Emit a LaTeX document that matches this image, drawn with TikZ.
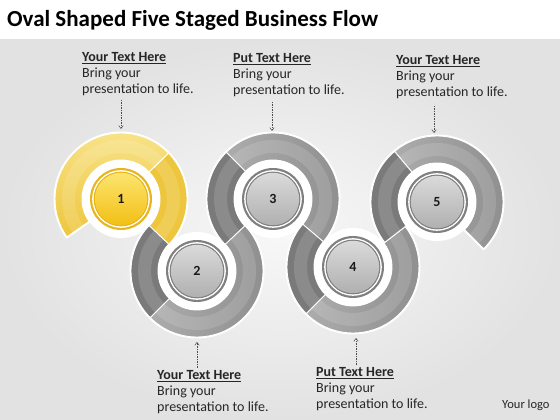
\documentclass[tikz,border=0pt]{standalone}
\usepackage{fontspec}
\setmainfont{Carlito}
\usetikzlibrary{arrows.meta}
\definecolor{ylA}{RGB}{248,228,140}
\definecolor{ylB}{RGB}{238,198,60}
\definecolor{ylC}{RGB}{238,198,62}
\definecolor{ylRim}{RGB}{232,182,28}
\definecolor{ylTop}{RGB}{252,228,110}
\definecolor{ylBot}{RGB}{242,192,22}
\definecolor{gD}{RGB}{122,122,122}
\definecolor{gL}{RGB}{172,172,172}
\definecolor{gM}{RGB}{142,142,142}
\definecolor{gRim}{RGB}{128,128,128}
\definecolor{gTop}{RGB}{218,218,218}
\definecolor{gBot}{RGB}{176,176,176}
\definecolor{bgIn}{RGB}{248,248,248}
\definecolor{bgOut}{RGB}{226,226,226}
\def\bandRo{66}
\def\bandRi{39}
\newcommand{\bandseg}[3]{([shift={(#2:\bandRo)}]#1) arc[start angle=#2, end angle=#3, radius=\bandRo] -- ([shift={(#3:\bandRi)}]#1) arc[start angle=#3, end angle=#2, radius=\bandRi] -- cycle}
\newcommand{\bandmid}[3]{([shift={(#2:52.5)}]#1) arc[start angle=#2, end angle=#3, radius=52.5]}
\newcommand{\ringbtn}[6]{%
  \fill[white] (#1) circle[radius=39];
  \fill[#2] (#1) circle[radius=31];
  \fill[white] (#1) circle[radius=28.8];
  \fill[#2] (#1) circle[radius=27.4];
  \shade[top color=#3, bottom color=#4] (#1) circle[radius=26.2];
  \node[num] (#6) at (#1) {#5};}
\begin{document}
\begin{tikzpicture}[x=1pt,y=1pt,
  lbl/.style={anchor=north west, align=left, inner sep=0pt, font=\fontsize{14}{16}\selectfont, text=black!85},
  arr/.style={draw=black!70, line width=0.5pt, dash pattern=on 1.5pt off 1pt, -{Straight Barb[length=3pt,width=4.5pt]}},
  sep/.style={draw=white, line width=0.9pt, line join=round},
  halo/.style={draw=white, line width=3pt, line join=round},
  tube/.style={draw=white, draw opacity=0.13, line width=13pt},
  num/.style={font=\fontsize{14}{14}\selectfont\bfseries, text=black!90, inner sep=0pt}]
\useasboundingbox (0,0) rectangle (560,420);
\fill[white] (0,0) rectangle (560,420);
\shade[inner color=bgIn, outer color=bgOut] (0,0) rectangle (560,380);
% centres
\coordinate (c1) at (121,221);
\coordinate (c2) at (197,149);
\coordinate (c3) at (273,221);
\coordinate (c4) at (353,153);
\coordinate (c5) at (437,218);
% halo
\draw[halo] \bandseg{c1}{-43.5}{215};
\draw[halo] \bandseg{c2}{136.5}{403.5};
\draw[halo] \bandseg{c3}{-40.4}{223.5};
\draw[halo] \bandseg{c4}{139.6}{397.7};
\draw[halo] \bandseg{c5}{-45}{217.7};
% ring 1 (yellow)
\fill[ylC, sep] \bandseg{c1}{-43.5}{44};
\shade[top color=ylA, bottom color=ylB] \bandseg{c1}{44}{215};
\draw[sep] \bandseg{c1}{44}{215};
% ring 2
\fill[gD, sep] \bandseg{c2}{136.5}{225};
\shade[left color=gL, right color=gM] \bandseg{c2}{225}{403.5};
\draw[sep] \bandseg{c2}{225}{403.5};
% ring 3
\shade[left color=gL, right color=gM] \bandseg{c3}{-40.4}{135};
\draw[sep] \bandseg{c3}{-40.4}{135};
\fill[gD, sep] \bandseg{c3}{135}{223.5};
% ring 4
\fill[gD, sep] \bandseg{c4}{139.6}{225};
\shade[left color=gL, right color=gM] \bandseg{c4}{225}{397.7};
\draw[sep] \bandseg{c4}{225}{397.7};
% ring 5
\shade[left color=gL, right color=gM] \bandseg{c5}{-45}{130};
\draw[sep] \bandseg{c5}{-45}{130};
\fill[gD, sep] \bandseg{c5}{130}{217.7};
% tube highlight
\draw[tube] \bandmid{c1}{-43}{214.5};
\draw[tube] \bandmid{c2}{137}{403};
\draw[tube] \bandmid{c3}{-40}{223};
\draw[tube] \bandmid{c4}{140}{397.2};
\draw[tube] \bandmid{c5}{-44.5}{217.2};
% buttons
\ringbtn{c1}{ylRim}{ylTop}{ylBot}{1}{n1}
\ringbtn{c2}{gRim}{gTop}{gBot}{2}{n2}
\ringbtn{c3}{gRim}{gTop}{gBot}{3}{n3}
\ringbtn{c4}{gRim}{gTop}{gBot}{4}{n4}
\ringbtn{c5}{gRim}{gTop}{gBot}{5}{n5}
% title
\node[anchor=base west, inner sep=0pt, font=\fontsize{23}{26}\selectfont\bfseries] (title) at (7,393) {Oval Shaped Five Staged Business Flow};
% labels
\node[lbl] (t1) at (82,368) {\underline{\textbf{Your Text Here}}\\Bring your\\presentation to life.};
\node[lbl] (t2) at (233,367) {\underline{\textbf{Put Text Here}}\\Bring your\\presentation to life.};
\node[lbl] (t3) at (396,365) {\underline{\textbf{Your Text Here}}\\Bring your\\presentation to life.};
\node[lbl] (b1) at (157,50) {\underline{\textbf{Your Text Here}}\\Bring your\\presentation to life.};
\node[lbl] (b2) at (316,53) {\underline{\textbf{Put Text Here}}\\Bring your\\presentation to life.};
\node[anchor=base west, inner sep=0pt, font=\fontsize{12.5}{14}\selectfont, text=black!85] (logo) at (502,11) {Your logo};
% arrow targets
\coordinate (a1) at (121,291);
\coordinate (a2) at (272,289);
\coordinate (a3) at (434,287);
\coordinate (a4) at (197,78);
\coordinate (a5) at (356,82);
\coordinate (s1) at (121,320);
\coordinate (s2) at (272,318);
\coordinate (s3) at (434,314);
\coordinate (s4) at (197,52);
\coordinate (s5) at (356,55);
\draw[arr] (s1) -- (a1);
\draw[arr] (s2) -- (a2);
\draw[arr] (s3) -- (a3);
\draw[arr] (s4) -- (a4);
\draw[arr] (s5) -- (a5);
\end{tikzpicture}
\end{document}
